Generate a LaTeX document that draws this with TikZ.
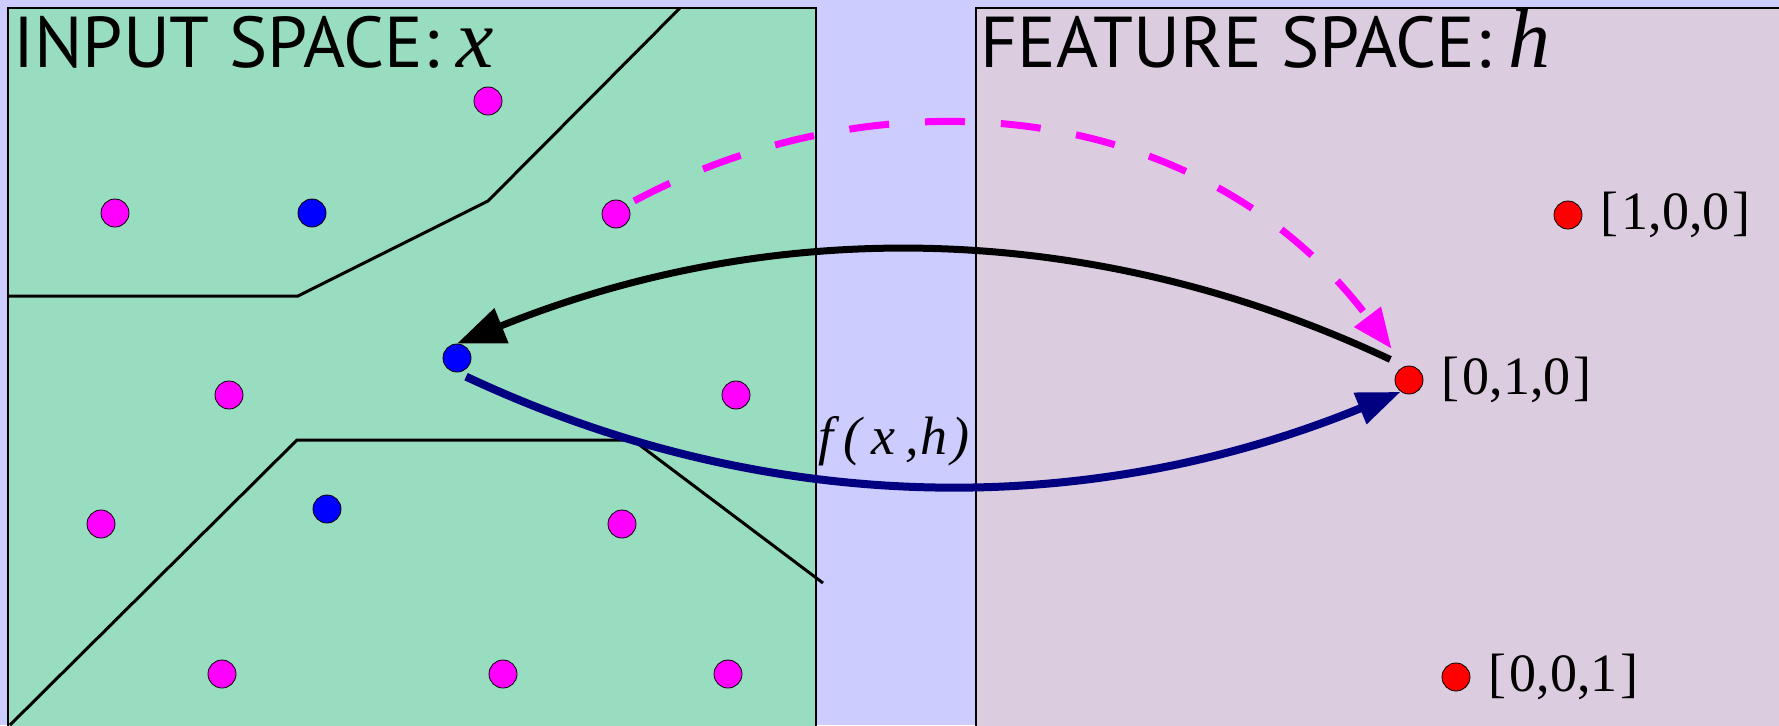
\documentclass[tikz,border=0pt]{standalone}
\usepackage{fontspec}
\setmainfont{Liberation Serif}
\newfontfamily\titlefont{PT Sans}
\usetikzlibrary{arrows.meta,positioning}
\definecolor{outerbg}{RGB}{204,204,255}
\definecolor{inbg}{RGB}{153,221,192}
\definecolor{featbg}{RGB}{219,204,224}
\definecolor{navyarr}{RGB}{0,0,128}
\definecolor{pinkdot}{RGB}{255,0,255}
\newcommand{\mvar}[1]{{\rmfamily\itshape\fontsize{42}{42}\selectfont #1}}

\begin{document}
\begin{tikzpicture}[
  x=0.5pt, y=-0.5pt,
  dot/.style={circle, draw=black, line width=0.4pt, inner sep=0pt,
              minimum size=14pt},
  pdot/.style={dot, fill=pinkdot},
  bdot/.style={dot, fill=blue},
  rdot/.style={dot, fill=red},
  vec/.style={font=\fontsize{27}{27}\selectfont, inner sep=1pt},
  title/.style={font=\titlefont\fontsize{36}{36}\selectfont, inner sep=0pt,
                anchor=base west},
  panel/.style={draw=black, line width=0.8pt},
  bound/.style={draw=black, line width=1.5pt},
  dasharr/.style={draw=pinkdot, line width=3.5pt,
                  dash pattern=on 20pt off 18pt,
                  -{Triangle[length=20pt,width=16pt]}},
  blkarr/.style={draw=black, line width=3.5pt,
                 -{Triangle[length=24pt,width=18pt]}},
  navarr/.style={draw=navyarr, line width=4pt,
                 -{Triangle[length=22pt,width=16pt]}}
]
\useasboundingbox (0,0) rectangle (1779,725);
\fill[outerbg] (0,0) rectangle (1779,725);
\path[panel, fill=inbg] (8,8) rectangle (816,735);
\path[panel, fill=featbg] (976,8) rectangle (1790,735);

% titles
\node[title] (tin) at (13,67) {INPUT SPACE:\kern9pt\mvar{x}};
\node[title] (tfeat) at (980,67) {FEATURE SPACE:\kern9pt\mvar{h}};

% decision boundaries
\draw[bound] (8,296) -- (298,296) -- (488,201) -- (680,8);
\draw[bound] (10,725) -- (297,440) -- (633,440) -- (823,583);

% input points
\node[pdot] (p1)  at (488,101) {};
\node[pdot] (p2)  at (115,213) {};
\node[pdot] (p3)  at (616,214) {};
\node[pdot] (p4)  at (229,395) {};
\node[pdot] (p5)  at (736,395) {};
\node[pdot] (p6)  at (101,524) {};
\node[pdot] (p7)  at (622,524) {};
\node[pdot] (p8)  at (222,674) {};
\node[pdot] (p9)  at (503,674) {};
\node[pdot] (p10) at (728,674) {};
\node[bdot] (b1)  at (312,213) {};
\node[bdot] (b2)  at (457,358) {};
\node[bdot] (b3)  at (327,509) {};

% feature points
\node[rdot] (r1) at (1568,215) {};
\node[rdot] (r2) at (1409,380) {};
\node[rdot] (r3) at (1456,677) {};
\node[vec, right=8pt of r1] (l1) {[\kern1.5pt1,0,0\kern1.5pt]};
\node[vec, right=8pt of r2] (l2) {[\kern1.5pt0,1,0\kern1.5pt]};
\node[vec, right=8pt of r3] (l3) {[\kern1.5pt0,0,1\kern1.5pt]};

\node[font=\itshape\fontsize{27}{27}\selectfont, inner sep=0pt] (fh) at (894,441)
  {f\kern5pt(\kern5pt x\kern5pt,\kern1pt h\kern2pt)};

% mappings
\draw[dasharr, shorten <=4pt, shorten >=11pt]
  (p3.40) .. controls (880,70) and (1200,95) .. (r2.107);
\draw[blkarr, shorten <=8pt]
  (r2.107) .. controls (1087,217) and (771,217) .. (b2.north);
\draw[navarr, shorten <=5pt]
  (b2.south) .. controls (770,519) and (1090,519) .. (r2.235);
\end{tikzpicture}
\end{document}
